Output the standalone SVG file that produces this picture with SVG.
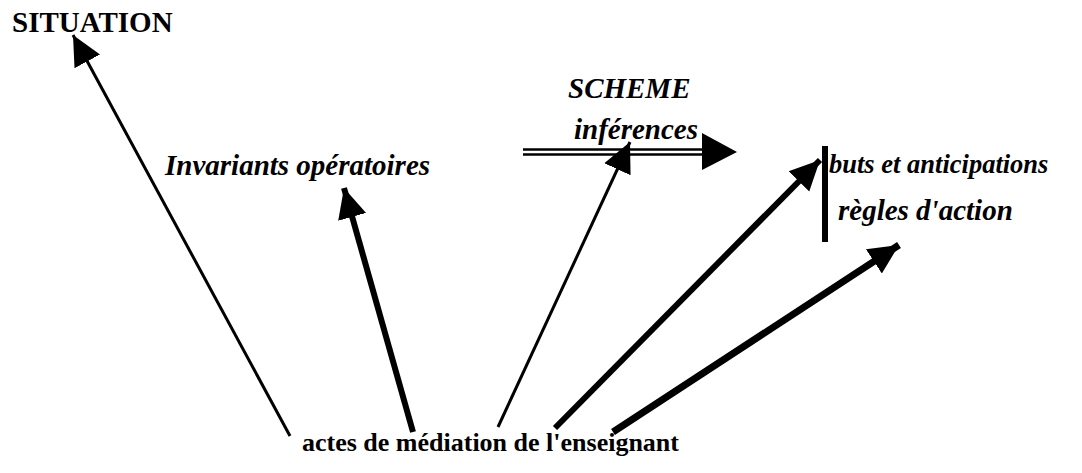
<svg xmlns="http://www.w3.org/2000/svg" width="1082" height="473" viewBox="0 0 1082 473">
<style>
.t{font-family:"Liberation Serif","Times New Roman",serif;font-size:29px;font-weight:bold;fill:#000}
.i{font-style:italic}
.c{stroke:#000;fill:none;stroke-linecap:butt}
</style>
<defs>
<marker id="ah" markerUnits="userSpaceOnUse" markerWidth="32" markerHeight="32" viewBox="-30 -15 32 30" refX="0" refY="0" orient="auto">
<path d="M0,0 L-30,-14.5 L-30,14.5 Z" fill="#000"/>
</marker>
</defs>
<rect width="1082" height="473" fill="#fff"/>
<g id="situation"><text class="t" x="12" y="32">SITUATION</text></g>
<g id="scheme"><text class="t i" x="568" y="98">SCHEME</text><text class="t i" x="574" y="139">inférences</text></g>
<g id="invariants"><text class="t i" x="165" y="175">Invariants opératoires</text></g>
<g id="buts">
<rect x="822" y="146" width="6" height="96" fill="#000"/>
<text class="t i" x="829" y="173" style="font-size:26.5px">buts et anticipations</text>
<text class="t i" x="838" y="220">règles d'action</text>
</g>
<g id="actes"><text class="t" x="302" y="451" style="font-size:26px">actes de médiation de l'enseignant</text></g>
<g id="connectors">
<line class="c" x1="523" y1="149.5" x2="706" y2="149.5" stroke-width="2.5"/>
<line class="c" x1="523" y1="154.5" x2="706" y2="154.5" stroke-width="2.5"/>
<polygon points="737,152 702,133 702,170" fill="#000"/>
<line class="c" x1="290" y1="436" x2="73" y2="35" stroke-width="3" marker-end="url(#ah)"/>
<line class="c" x1="413" y1="432" x2="344" y2="188" stroke-width="6" marker-end="url(#ah)"/>
<line class="c" x1="498" y1="427" x2="630" y2="142" stroke-width="3" marker-end="url(#ah)"/>
<line class="c" x1="555" y1="428" x2="820" y2="160" stroke-width="6" marker-end="url(#ah)"/>
<line class="c" x1="613" y1="432" x2="899" y2="245" stroke-width="7" marker-end="url(#ah)"/>
</g>
</svg>
